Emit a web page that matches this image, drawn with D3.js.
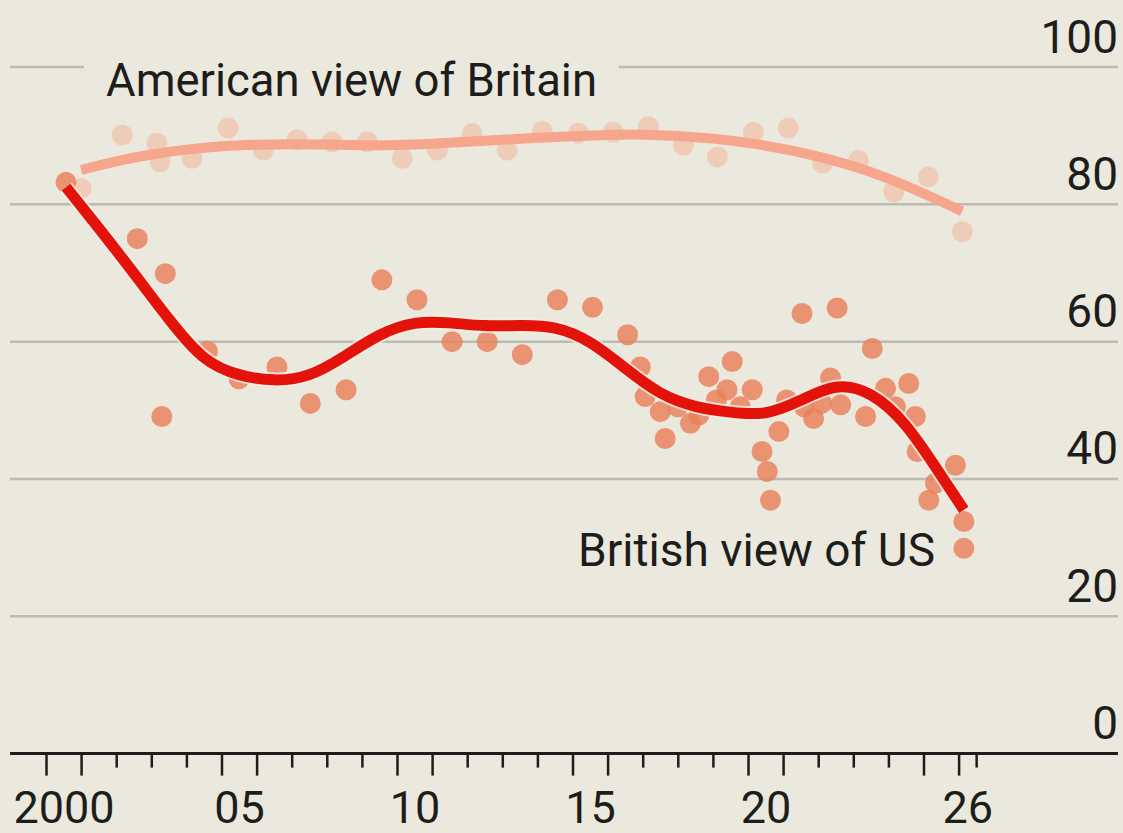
<!DOCTYPE html>
<html>
<head>
<meta charset="utf-8">
<script src="https://cdn.jsdelivr.net/npm/d3@7"></script>
<style>
  html, body {
    margin: 0;
    padding: 0;
    background: #ebe9dd;
  }

  svg {
    display: block;
    font-family: Roboto, "Noto Sans", sans-serif;
  }

  .grid line {
    stroke: #bbbbb3;
    stroke-width: 2.5;
  }

  .label {
    fill: #1d1d1b;
  }
</style>
</head>
<body>
<svg id="chart" width="1123" height="833"></svg>
<script>
//

// American view of Britain, % favourable (dots)
const usYears = [2001.0, 2002.17, 2003.16, 2003.25, 2004.16, 2005.19, 2006.19, 2007.16, 2008.15, 2009.15,
  2010.15, 2011.15, 2012.14, 2013.14, 2014.14, 2015.17, 2016.16, 2017.16, 2018.16, 2019.13,
  2020.15, 2021.15, 2022.12, 2023.15, 2024.15, 2025.14, 2026.11]
const usValues = [82.3, 90.1, 88.9, 86.2, 86.7, 91.1, 87.9, 89.4, 89.1, 89.1,
  86.7, 87.9, 90.3, 87.9, 90.6, 90.4, 90.5, 91.3, 88.6, 86.9,
  90.5, 91.1, 86.0, 86.4, 81.8, 84.0, 76.0]

// American view trend line
const usTrendYears = [2001, 2002, 2003, 2004, 2005, 2006, 2007, 2008, 2009, 2010, 2011, 2012, 2013,
  2014, 2015, 2016, 2017, 2018, 2019, 2020, 2021, 2022, 2023, 2024, 2025, 2026.1]
const usTrendValues = [85.0, 86.3, 87.3, 88.0, 88.5, 88.7, 88.8, 88.7, 88.6, 88.6, 88.8, 89.1, 89.4,
  89.7, 89.9, 90.1, 90.2, 90.0, 89.6, 89.0, 88.1, 87.0, 85.6, 83.8, 81.6, 79.0]

// British view of US, % favourable (dots)
const ukYears = [2000.57, 2002.6, 2003.4, 2003.3, 2004.6, 2005.5, 2006.58, 2007.53, 2008.55, 2009.57,
  2010.57, 2011.57, 2012.57, 2013.57, 2014.57, 2015.57, 2016.57, 2016.93, 2017.07, 2017.5,
  2017.64, 2018.0, 2018.36, 2018.6, 2018.88, 2019.1, 2019.4, 2019.55, 2019.78, 2020.12,
  2020.4, 2020.55, 2020.64, 2020.88, 2021.1, 2021.54, 2021.6, 2021.87, 2022.1, 2022.35,
  2022.54, 2022.64, 2023.35, 2023.54, 2023.92, 2024.2, 2024.58, 2024.77, 2024.82, 2025.15,
  2025.34, 2025.91, 2026.15, 2026.15]
const ukValues = [83.2, 75.0, 69.9, 49.1, 58.6, 54.6, 56.3, 51.0, 53.0, 69.0,
  66.1, 60.0, 60.0, 58.1, 66.1, 65.0, 61.0, 56.3, 52.0, 49.8,
  45.9, 50.5, 48.1, 49.3, 54.9, 51.5, 53.0, 57.1, 50.5, 53.0,
  44.0, 41.1, 36.9, 46.9, 51.5, 64.1, 50.5, 48.8, 51.0, 54.7,
  64.9, 50.8, 49.1, 59.0, 53.2, 50.5, 53.9, 49.1, 44.0, 36.9,
  39.4, 42.0, 33.8, 29.9]

// British view trend line
const ukTrendYears = [2000.57, 2001.5, 2002.5, 2003.5, 2004.5, 2005.5, 2006.5, 2007.5, 2008.5, 2009.5,
  2010.5, 2011.5, 2012.5, 2013.5, 2014.5, 2015.5, 2016.5, 2017.5, 2018.5, 2019.5,
  2020.5, 2021.5, 2022.5, 2023.5, 2024.5, 2025.5, 2026.15]
const ukTrendValues = [82.5, 76.6, 70.0, 63.2, 57.0, 55.0, 54.2, 54.8, 57.8, 61.2,
  63.0, 62.8, 62.2, 62.4, 62.3, 60.2, 56.1, 52.2, 50.4, 49.7,
  49.2, 51.4, 54.0, 52.8, 48.3, 40.5, 35.5]

// axes
const yTicks = [0, 20, 40, 60, 80, 100]
const xTickYears = d3.range(2000, 2027)
const xLongTicks = [2000, 2001, 2005, 2006, 2010, 2011, 2015, 2016, 2020, 2021, 2025, 2026]
const xExtraTick = 2026.5
const xLabels = ['2000', '05', '10', '15', '20', '26']
const xLabelPos = [2000.5, 2005.5, 2010.5, 2015.5, 2020.5, 2026.25]

//

const svg = d3.select('#chart')
const width = 1123
const height = 833

const x = d3.scaleLinear()
  .domain([2000, 2026])
  .range([46, 958.6])

const y = d3.scaleLinear()
  .domain([0, 100])
  .range([753.6, 67])

const gridLeft = 10
const gridRight = 1118

svg.append('rect')
  .attr('width', width)
  .attr('height', height)
  .attr('fill', '#ebe9dd')

// gridlines
const grid = svg.append('g')
  .attr('class', 'grid')

grid.selectAll('line')
  .data(yTicks.filter((d) => d > 0))
  .enter()
  .append('line')
  .attr('x1', gridLeft)
  .attr('x2', gridRight)
  .attr('y1', (d) => y(d))
  .attr('y2', (d) => y(d))

// y labels (right)
const yAxis = d3.axisLeft(y)
  .tickValues(yTicks)
  .tickSize(0)
  .tickPadding(0)
  .tickFormat(d3.format('d'))

const gY = svg.append('g')
  .attr('transform', `translate(${gridRight},0)`)
  .call(yAxis)

gY.select('.domain').remove()
gY.selectAll('text')
  .attr('class', 'label')
  .attr('dy', -15)
  .style('font-size', '46px')
  .style('font-family', 'Roboto, sans-serif')
  .attr('fill', '#1d1d1b')

// "American view of Britain" label, sits over the 100 gridline
const usLabel = svg.append('g')
const usText = usLabel.append('text')
  .attr('class', 'label')
  .attr('x', 106)
  .attr('y', 96)
  .style('font-size', '46px')
  .attr('textLength', 491)
  .attr('lengthAdjust', 'spacingAndGlyphs')
  .text('American view of Britain')
const usBox = usText.node().getBBox()
usLabel.insert('rect', 'text')
  .attr('x', usBox.x - 22)
  .attr('y', usBox.y)
  .attr('width', usBox.width + 44)
  .attr('height', usBox.height)
  .attr('fill', '#ebe9dd')

// American dots + trend
const usData = usYears.map((t, i) => ({ t, v: usValues[i] }))
const usTrend = usTrendYears.map((t, i) => ({ t, v: usTrendValues[i] }))

svg.append('g')
  .selectAll('circle')
  .data(usData)
  .enter()
  .append('circle')
  .attr('cx', (d) => x(d.t))
  .attr('cy', (d) => y(d.v))
  .attr('r', 10.5)
  .attr('fill', '#f2b9a0')
  .attr('fill-opacity', 0.6)

const line = d3.line()
  .x((d) => x(d.t))
  .y((d) => y(d.v))
  .curve(d3.curveBasis)

svg.append('path')
  .datum(usTrend)
  .attr('d', line)
  .attr('fill', 'none')
  .attr('stroke', '#f5a68c')
  .attr('stroke-width', 10)

// British dots + trend
const ukData = ukYears.map((t, i) => ({ t, v: ukValues[i] }))
const ukTrend = ukTrendYears.map((t, i) => ({ t, v: ukTrendValues[i] }))

svg.append('g')
  .selectAll('circle')
  .data(ukData)
  .enter()
  .append('circle')
  .attr('cx', (d) => x(d.t))
  .attr('cy', (d) => y(d.v))
  .attr('r', 10.5)
  .attr('fill', '#e8805a')
  .attr('fill-opacity', 0.82)

svg.append('path')
  .datum(ukTrend)
  .attr('d', line)
  .attr('fill', 'none')
  .attr('stroke', '#f4ede4')
  .attr('stroke-width', 15)
  .attr('stroke-opacity', 0.8)

svg.append('path')
  .datum(ukTrend)
  .attr('d', line)
  .attr('fill', 'none')
  .attr('stroke', '#e3120b')
  .attr('stroke-width', 11)

svg.append('text')
  .attr('class', 'label')
  .attr('x', 935)
  .attr('y', 566)
  .attr('text-anchor', 'end')
  .style('font-size', '46px')
  .attr('textLength', 357)
  .attr('lengthAdjust', 'spacingAndGlyphs')
  .text('British view of US')

// x axis
const gX = svg.append('g')
  .attr('transform', `translate(0,${y(0)})`)

gX.append('line')
  .attr('x1', gridLeft)
  .attr('x2', gridRight)
  .attr('stroke', '#1d1d1b')
  .attr('stroke-width', 3)

const xAxis = d3.axisBottom(x)
  .tickValues(xTickYears.concat([xExtraTick]))
  .tickSize(14)
  .tickFormat('')

const gTicks = gX.append('g').call(xAxis)
gTicks.select('.domain').remove()
gTicks.selectAll('.tick line')
  .attr('stroke', '#1d1d1b')
  .attr('stroke-width', 2.5)
  .attr('y2', (d) => (xLongTicks.includes(d) ? 22 : 14))

const xLabelAxis = d3.axisBottom(x)
  .tickValues(xLabelPos)
  .tickSize(0)
  .tickPadding(0)
  .tickFormat((d, i) => xLabels[i])

const gLabels = gX.append('g').call(xLabelAxis)
gLabels.select('.domain').remove()
gLabels.selectAll('text')
  .attr('class', 'label')
  .attr('y', 69)
  .attr('dy', 0)
  .style('font-size', '45px')
  .style('font-family', 'Roboto, sans-serif')
  .attr('fill', '#1d1d1b')

//
</script>
</body>
</html>
